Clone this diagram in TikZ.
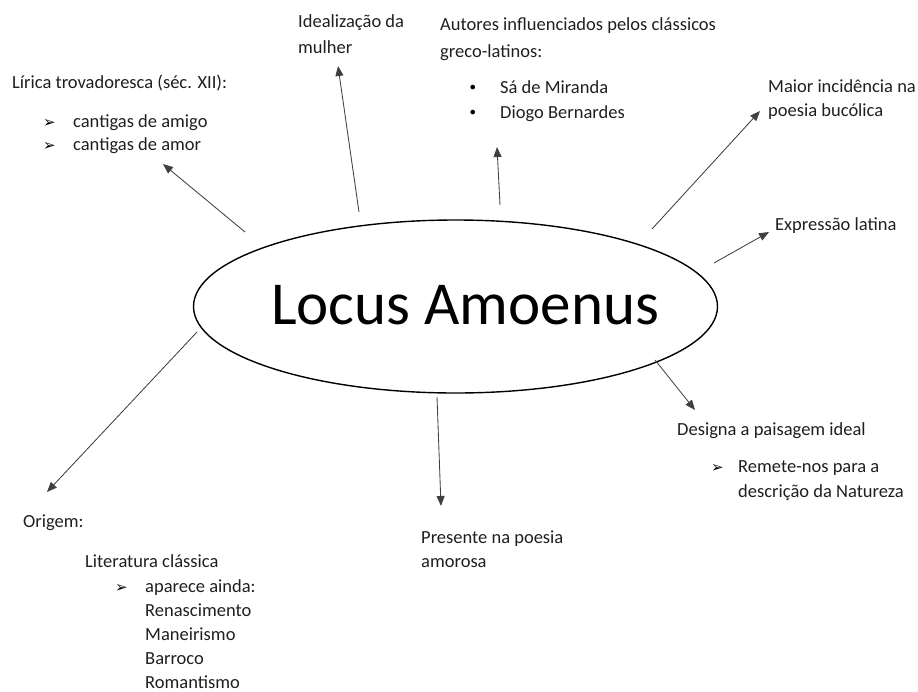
\documentclass[tikz,border=0pt]{standalone}
\usepackage{fontspec}
\setmainfont{Carlito}
\newfontfamily\dingfont{DejaVu Sans}
\usetikzlibrary{shapes.geometric,arrows.meta}
\begin{document}
\begin{tikzpicture}[x=1pt,y=-1pt,
  txt/.style={anchor=base west, inner sep=0pt, text=black!88,
    font=\fontsize{18.5}{24}\selectfont},
  arrowbullet/.style={anchor=base west, inner sep=0pt, text=black,
    font=\dingfont\fontsize{15}{16}\selectfont},
  dotbullet/.style={anchor=base west, inner sep=0pt, text=black,
    font=\dingfont\fontsize{16}{17}\selectfont},
  title/.style={anchor=base west, inner sep=0pt, text=black,
    font=\fontsize{61}{70}\selectfont},
  hubshape/.style={ellipse, draw=black, line width=1.4pt, inner sep=0pt,
    minimum width=524pt, minimum height=173pt},
  conn/.style={draw=black!75, line width=0.85pt,
    -{Triangle[length=10pt,width=8pt]}},
]
\useasboundingbox (0,0) rectangle (918,691);

% central topic
\node[hubshape] (hub) at (455.5,306.5) {};
\node[title] (hubtext) at (271,324) {Locus Amoenus};

% upper left: troubadour lyric
\node[txt] (lir1) at (12,88) {Lírica trovadoresca (séc. XII):};
\node[arrowbullet] (lirb1) at (43,127) {➢};
\node[txt] (lir2) at (73,127) {cantigas de amigo};
\node[arrowbullet] (lirb2) at (43,150) {➢};
\node[txt] (lir3) at (73,150) {cantigas de amor};

% top: idealised woman
\node[txt] (ide1) at (298,27) {Idealização da};
\node[txt] (ide2) at (298,53) {mulher};

% top: authors
\node[txt] (aut1) at (440,30) {Autores influenciados pelos clássicos};
\node[txt] (aut2) at (440,57) {greco-latinos:};
\node[dotbullet] (autb1) at (468,93) {•};
\node[txt] (aut3) at (500,93) {Sá de Miranda};
\node[dotbullet] (autb2) at (468,118) {•};
\node[txt] (aut4) at (500,118) {Diogo Bernardes};

% upper right
\node[txt] (mai1) at (768,92) {Maior incidência na};
\node[txt] (mai2) at (768,116) {poesia bucólica};
\node[txt] (exp1) at (775,230) {Expressão latina};

% lower right
\node[txt] (des1) at (677,435) {Designa a paisagem ideal};
\node[arrowbullet] (desb1) at (711,472) {➢};
\node[txt] (des2) at (738,472) {Remete-nos para a};
\node[txt] (des3) at (738,497) {descrição da Natureza};

% bottom
\node[txt] (pre1) at (421,543) {Presente na poesia};
\node[txt] (pre2) at (421,567) {amorosa};

% lower left: origin
\node[txt] (ori1) at (23,527) {Origem:};
\node[txt] (ori2) at (85,567) {Literatura clássica};
\node[arrowbullet] (orib1) at (115,592) {➢};
\node[txt] (ori3) at (145,592) {aparece ainda:};
\node[txt] (ori4) at (145,616) {Renascimento};
\node[txt] (ori5) at (145,640) {Maneirismo};
\node[txt] (ori6) at (145,664) {Barroco};
\node[txt] (ori7) at (145,688) {Romantismo};

% connector end points
\coordinate (s1) at (245,232); \coordinate (e1) at (163,164);
\coordinate (s2) at (359,212); \coordinate (e2) at (338,66);
\coordinate (s3) at (500,205); \coordinate (e3) at (497,147);
\coordinate (s4) at (652,229); \coordinate (e4) at (760,111);
\coordinate (s5) at (714,263); \coordinate (e5) at (769,232);
\coordinate (s6) at (655,360); \coordinate (e6) at (695,410);
\coordinate (s7) at (437,397); \coordinate (e7) at (441,506);
\coordinate (s8) at (197,332); \coordinate (e8) at (47,492);

% connectors
\draw[conn] (s1) -- (e1);
\draw[conn] (s2) -- (e2);
\draw[conn] (s3) -- (e3);
\draw[conn] (s4) -- (e4);
\draw[conn] (s5) -- (e5);
\draw[conn] (s6) -- (e6);
\draw[conn] (s7) -- (e7);
\draw[conn] (s8) -- (e8);
\end{tikzpicture}
\end{document}
